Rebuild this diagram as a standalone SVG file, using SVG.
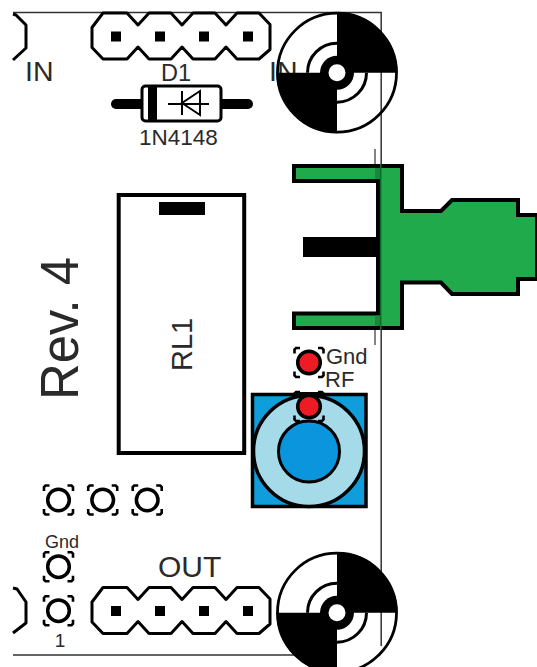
<svg xmlns="http://www.w3.org/2000/svg" xmlns:xlink="http://www.w3.org/1999/xlink" width="537" height="667" viewBox="0 0 537 667">
<style>
text{font-family:"Liberation Sans",Arial,sans-serif;fill:#2a2a2a}
.board{fill:none;stroke:#333;stroke-width:1.5}
.o{fill:none;stroke:#000;stroke-width:3;stroke-linejoin:round}
.k{fill:#000}
.pad{fill:none;stroke:#000;stroke-width:3.5}
.mark{fill:none;stroke:#000;stroke-width:2.6}
</style>
<defs>
<g id="marks"><path class="mark" d="M-14.5-9V-13L-13-14.5H-9M9-14.5H13L14.5-13V-9M14.5 9V13L13 14.5H9M-9 14.5H-13L-14.5 13V9"/></g>
<g id="padmark"><use xlink:href="#marks"/><circle class="pad" r="10.800"/></g>
<g id="redpad"><use xlink:href="#marks"/><circle r="11.300" fill="#ed1c24" stroke="#000" stroke-width="3.500"/></g>
<g id="header">
<path class="o" d="M-24-9-13-23.5H11L22-11.5 33-23.5H55L66-11.5 77-23.5H99L110-11.5 121-23.5H143L154-12V13L143 22.5H121L110 10.500 99 22.500H77L66 10.500 55 22.500H33L22 10.500 11 22.500H-13L-24 11Z"/>
<rect class="k" x="-5" y="-5" width="10" height="10"/><rect class="k" x="39" y="-5" width="10" height="10"/><rect class="k" x="83" y="-5" width="10" height="10"/><rect class="k" x="127" y="-5" width="10" height="10"/>
</g>
<g id="target">
<circle r="59.500" fill="none" stroke="#000" stroke-width="2.800"/>
<path class="k" d="M0 0V-60.500A60.500 60.500 0 0 1 60.500 0ZM0 0V60.500A60.500 60.500 0 0 1-60.500 0Z"/>
<path d="M-29.500 0A29.500 29.500 0 0 1 0-29.500M29.500 0A29.500 29.500 0 0 1 0 29.500" fill="none" stroke="#000" stroke-width="3"/>
<circle r="17" class="k"/><circle r="8.500" fill="#fff"/>
</g>
</defs>

<g id="board"><path class="board" d="M13 12.500H381.200V646M13 655H300"/></g>

<g id="texts-under">
<text x="25" y="80.500" font-size="28.500">IN</text>
<text x="269" y="80.500" font-size="28.500">IN</text>
</g>

<g id="header-in-left"><path class="o" d="M13 14 16 15 26 25V48L13 60"/></g>
<g id="header-in"><use xlink:href="#header" transform="translate(116 36.500)"/></g>
<g id="header-out-left"><path class="o" d="M13 588 17 589 26 602V623L13 633"/></g>
<g id="header-out"><use xlink:href="#header" transform="translate(116 611)"/></g>

<g id="D1">
<text x="161" y="81" font-size="23.500">D1</text>
<path d="M116 104H248" fill="none" stroke="#000" stroke-width="10" stroke-linecap="round"/>
<rect x="142" y="86" width="79" height="35" rx="3.500" fill="#fff" stroke="#000" stroke-width="3"/>
<rect class="k" x="148" y="86" width="9" height="35"/>
<path d="M168 104H209M182 91V115M200 91 182 103 200 115Z" fill="none" stroke="#000" stroke-width="2"/>
<text x="139" y="144.500" font-size="22.500">1N4148</text>
</g>

<g id="IN-top"><use xlink:href="#target" transform="translate(337 72.700)"/></g>
<g id="OUT-bottom"><use xlink:href="#target" transform="translate(337 612.700)"/></g>

<g id="connector">
<path d="M294 166H402V211H441L452 200H518V215H537V279H518V294H452L441 282.500H402V328H294V313.500H378V181H294Z" fill="#20aa4b" stroke="#000" stroke-width="4"/>
<rect class="k" x="303" y="237" width="75" height="20"/>
<path d="M377.500 168V179M377.500 315.500V326" stroke="#178a3d" stroke-width="5" fill="none"/>
<path d="M380.700 164V330" stroke="#0b6b2c" stroke-width="1.500" fill="none"/>
<path d="M375 149V164M375 330V345" stroke="#333" stroke-width="1.200" fill="none"/>
</g>

<g id="RL1">
<rect x="118.700" y="195" width="125.500" height="258" fill="#fff" stroke="#000" stroke-width="4"/>
<rect class="k" x="159" y="202" width="46" height="13"/>
<text transform="translate(191.500 371) rotate(-90)" font-size="29">RL1</text>
</g>

<g id="rev"><text transform="translate(77.500 400) rotate(-90) scale(.94 1)" font-size="54">Rev. 4</text></g>

<g id="trimmer">
<rect x="252.500" y="394.500" width="113.500" height="112" fill="#0f9ddc" stroke="#000" stroke-width="3.500"/>
<circle cx="309" cy="451" r="55.500" fill="#a5dbe9" stroke="#000" stroke-width="3.500"/>
<circle cx="309" cy="451.500" r="30.500" fill="#0b95dc" stroke="#000" stroke-width="3"/>
<rect class="k" x="295" y="392" width="27" height="4.500"/>
</g>
<g id="pad-rf"><use xlink:href="#redpad" transform="translate(309 406.500)"/></g>
<g id="pad-gnd"><use xlink:href="#redpad" transform="translate(309 362.500)"/>
<text x="326" y="364" font-size="22">Gnd</text>
<text x="325" y="387" font-size="22">RF</text>
</g>

<g id="pad1"><use xlink:href="#padmark" transform="translate(58.500 500)"/></g>
<g id="pad2"><use xlink:href="#padmark" transform="translate(102.700 500)"/></g>
<g id="pad3"><use xlink:href="#padmark" transform="translate(147.200 500)"/></g>
<g id="pad4"><use xlink:href="#padmark" transform="translate(58.500 566.700)"/>
<text x="45" y="548" font-size="18">Gnd</text></g>
<g id="pad5"><use xlink:href="#padmark" transform="translate(58.500 610.700)"/>
<text x="60" y="647" font-size="19" text-anchor="middle">1</text></g>
<text x="158" y="577" font-size="30">OUT</text>
</svg>
